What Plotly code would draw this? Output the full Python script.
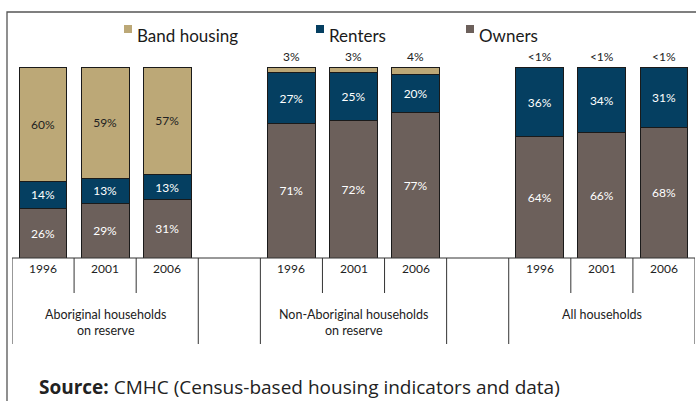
import plotly.graph_objects as go

# ---- data ----
groups = ["Aboriginal households<br>on reserve", "Non-Aboriginal households<br>on reserve", "All households"]
years = ["1996", "2001", "2006"]
series_names = ["Band housing", "Renters", "Owners"]
owners = [26, 29, 31, 71, 72, 77, 64, 66, 68]
renters = [14, 13, 13, 27, 25, 20, 36, 34, 31]
band = [60, 59, 57, 3, 3, 4, 0.5, 0.5, 0.5]
band_labels = ["60%", "59%", "57%", "3%", "3%", "4%", "<1%", "<1%", "<1%"]

# category slots (empty slot between groups)
xpos = [0, 1, 2, 4, 5, 6, 8, 9, 10]
group_centers = [1, 5, 9]

C_BAND = "#BCA877"
C_RENT = "#053F61"
C_OWN = "#6C605B"
colors = {"Band housing": C_BAND, "Renters": C_RENT, "Owners": C_OWN}
FONT = "Lato"

W, H = 696, 401
L, R, T, B = 12, 1, 67, 143
PW, PH = W - L - R, H - T - B


def px_x(px):
    return (px - L) / PW


def px_y(py):
    return (H - B - py) / PH


fig = go.Figure()
line = dict(color="#1a1a1a", width=1)

fig.add_trace(go.Bar(
    x=xpos, y=owners, name="Owners", marker=dict(color=C_OWN, line=line),
    text=[f"{v}%" for v in owners], textposition="inside", insidetextanchor="middle",
    textfont=dict(color="white", size=12, family=FONT), width=0.77, cliponaxis=False,
    hoverinfo="skip", showlegend=False))
fig.add_trace(go.Bar(
    x=xpos, y=renters, name="Renters", marker=dict(color=C_RENT, line=line),
    text=[f"{v}%" for v in renters], textposition="inside", insidetextanchor="middle",
    textfont=dict(color="white", size=12, family=FONT), width=0.77, cliponaxis=False,
    hoverinfo="skip", showlegend=False))
fig.add_trace(go.Bar(
    x=xpos, y=band, name="Band housing", marker=dict(color=C_BAND, line=line),
    text=band_labels, textposition=["inside"] * 3 + ["outside"] * 6, insidetextanchor="middle",
    insidetextfont=dict(color="#222", size=12, family=FONT),
    outsidetextfont=dict(color="#222", size=12, family=FONT),
    width=0.77, cliponaxis=False, hoverinfo="skip", showlegend=False))

shapes = []
annotations = []
# outer frame
shapes.append(dict(type="rect", xref="paper", yref="paper",
                   x0=px_x(7), x1=px_x(705), y0=px_y(410), y1=px_y(12),
                   line=dict(color="#555", width=1.3), layer="below"))
# category table under the bars
tl = dict(color="#333", width=1)
shapes.append(dict(type="line", xref="x", yref="paper", x0=-0.5, x1=10.5, y0=0, y1=0, line=tl))
for xv in [-0.5, 2.5, 3.5, 6.5, 7.5, 10.5]:
    shapes.append(dict(type="line", xref="x", yref="paper", x0=xv, x1=xv,
                       y0=0, y1=px_y(344), line=tl))
for xv in [0.5, 1.5, 4.5, 5.5, 8.5, 9.5]:
    shapes.append(dict(type="line", xref="x", yref="paper", x0=xv, x1=xv,
                       y0=0, y1=px_y(293), line=tl))

for i, xv in enumerate(xpos):
    annotations.append(dict(x=xv, y=px_y(278), xref="x", yref="paper", text=years[i % 3],
                            showarrow=False, font=dict(size=12, family=FONT, color="#222")))
for g, xv in zip(groups, group_centers):
    annotations.append(dict(x=xv, y=px_y(305), xref="x", yref="paper", text=g, yanchor="top",
                            showarrow=False, font=dict(size=12.5, family=FONT, color="#222")))

# legend (square key + label)
legend_x = [124, 316, 466]
for name, lx in zip(series_names, legend_x):
    shapes.append(dict(type="rect", xref="paper", yref="paper",
                       x0=px_x(lx), x1=px_x(lx + 8), y0=px_y(33), y1=px_y(25),
                       fillcolor=colors[name], line=dict(width=0)))
    annotations.append(dict(x=px_x(lx + 11), y=px_y(35), xref="paper", yref="paper",
                            xanchor="left", yanchor="middle", text=name, showarrow=False,
                            font=dict(size=17, family=FONT, color="#1a1a1a")))

annotations.append(dict(x=px_x(37), y=px_y(387), xref="paper", yref="paper", xanchor="left",
                        yanchor="middle",
                        text="<b>Source:</b> CMHC (Census-based housing indicators and data)",
                        showarrow=False, font=dict(size=19, family="Open Sans", color="#222")))

fig.update_layout(
    width=W, height=H, margin=dict(l=L, r=R, t=T, b=B),
    barmode="stack", barnorm="percent",
    plot_bgcolor="white", paper_bgcolor="white",
    xaxis=dict(range=[-0.5, 10.5], showticklabels=False, showgrid=False, zeroline=False,
               showline=False, ticks=""),
    yaxis=dict(range=[0, 100], showticklabels=False, showgrid=False, zeroline=False,
               showline=False, ticks=""),
    showlegend=False,
    shapes=shapes, annotations=annotations,
)

fig.write_html("out.html", config={"displayModeBar": False},
               post_script="document.body.style.margin='0';")
